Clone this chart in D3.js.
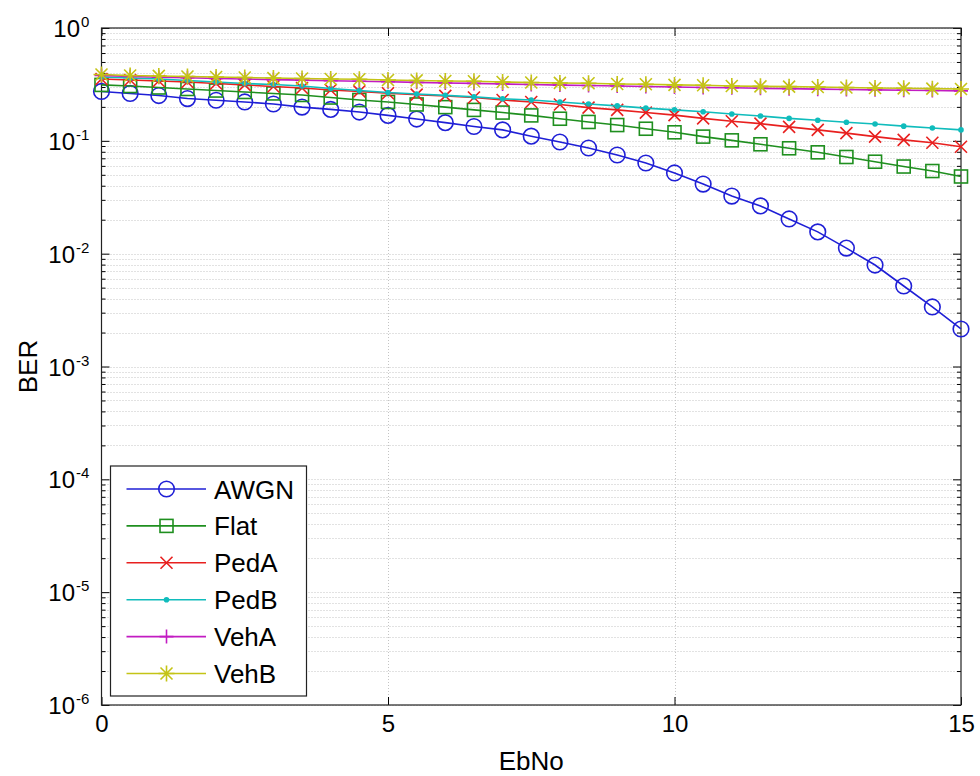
<!DOCTYPE html>
<html>
<head>
<meta charset="utf-8">
<script src="https://cdn.jsdelivr.net/npm/d3@7"></script>
<style>
  body { margin: 0; background: #fff; }
  svg { display: block; font-family: "Liberation Sans", Arial, sans-serif; }
</style>
</head>
<body>
<svg id="chart" width="980" height="776"></svg>
<script>
// ---------------------------------------------
// Data
// ---------------------------------------------

let ebno = [0, 0.5, 1, 1.5, 2, 2.5, 3, 3.5, 4, 4.5, 5, 5.5, 6, 6.5, 7, 7.5,
  8, 8.5, 9, 9.5, 10, 10.5, 11, 11.5, 12, 12.5, 13, 13.5, 14, 14.5, 15];

let awgn = [0.274, 0.263, 0.252, 0.237, 0.229, 0.221, 0.212, 0.199, 0.190, 0.180,
  0.168, 0.156, 0.145, 0.134, 0.125, 0.110, 0.0976, 0.0864, 0.0749, 0.0636,
  0.0519, 0.0414, 0.0324, 0.0265, 0.0203, 0.0156, 0.0112, 0.00793, 0.00517,
  0.00337, 0.00215];

let flat = [0.313, 0.306, 0.297, 0.288, 0.279, 0.271, 0.263, 0.255, 0.242, 0.230,
  0.221, 0.210, 0.199, 0.188, 0.178, 0.168, 0.157, 0.147, 0.138, 0.128,
  0.119, 0.109, 0.101, 0.0932, 0.0859, 0.0791, 0.0719, 0.0653, 0.0592,
  0.0540, 0.0483];

let pedA = [0.353, 0.346, 0.339, 0.332, 0.322, 0.313, 0.303, 0.294, 0.282, 0.274,
  0.264, 0.257, 0.250, 0.242, 0.230, 0.221, 0.210, 0.197, 0.188, 0.178,
  0.169, 0.158, 0.149, 0.142, 0.133, 0.125, 0.117, 0.109, 0.102, 0.0962,
  0.0887];

let pedB = [0.368, 0.360, 0.353, 0.343, 0.332, 0.322, 0.316, 0.306, 0.291, 0.279,
  0.268, 0.260, 0.253, 0.245, 0.236, 0.230, 0.221, 0.212, 0.204, 0.195,
  0.188, 0.181, 0.173, 0.166, 0.158, 0.152, 0.146, 0.141, 0.135, 0.130,
  0.125];

let vehA = [0.380, 0.372, 0.366, 0.362, 0.357, 0.353, 0.349, 0.345, 0.341, 0.337,
  0.334, 0.330, 0.326, 0.323, 0.319, 0.316, 0.312, 0.309, 0.306, 0.303,
  0.300, 0.297, 0.295, 0.292, 0.290, 0.287, 0.285, 0.283, 0.281, 0.279,
  0.277];

let vehB = [0.387, 0.379, 0.376, 0.372, 0.368, 0.364, 0.360, 0.357, 0.353, 0.351,
  0.346, 0.343, 0.339, 0.337, 0.332, 0.329, 0.326, 0.324, 0.319, 0.317,
  0.313, 0.311, 0.306, 0.304, 0.302, 0.300, 0.297, 0.294, 0.292, 0.290,
  0.288];

let seriesNames = ['AWGN', 'Flat', 'PedA', 'PedB', 'VehA', 'VehB'];
let seriesValues = [awgn, flat, pedA, pedB, vehA, vehB];

let xTicks = [0, 5, 10, 15];
let yExponents = [0, -1, -2, -3, -4, -5, -6];

// ---------------------------------------------
// Styles
// ---------------------------------------------

let colors = ['#1f1fd6', '#1f8f1f', '#e8201f', '#10bcbc', '#c21cc2', '#c4c416'];
let markers = ['circle', 'square', 'x', 'dot', 'plus', 'star'];

let svg = d3.select('#chart');
let margin = {left: 101.5, right: 961, top: 28, bottom: 705};

let x = d3.scaleLinear().domain([0, 15]).range([margin.left, margin.right]);
let y = d3.scaleLog().domain([1e-6, 1]).range([margin.bottom, margin.top]);

// major and minor log ticks
let majorVals = yExponents.map((e) => Math.pow(10, e));
let minorVals = [];
for (let e = -6; e < 0; e++) {
  for (let m = 2; m <= 9; m++) minorVals.push(m * Math.pow(10, e));
}

// ---------------------------------------------
// Grid
// ---------------------------------------------

let grid = svg.append('g')
    .attr('stroke', '#c4c4c4')
    .attr('stroke-width', 1)
    .attr('stroke-dasharray', '1,2');

grid.selectAll('.hgrid').data(majorVals.concat(minorVals))
    .join('line')
    .attr('x1', margin.left)
    .attr('x2', margin.right)
    .attr('y1', (d) => Math.round(y(d)) + 0.5)
    .attr('y2', (d) => Math.round(y(d)) + 0.5);

grid.selectAll('.vgrid').data([5, 10])
    .join('line')
    .attr('x1', (d) => Math.round(x(d)) + 0.5)
    .attr('x2', (d) => Math.round(x(d)) + 0.5)
    .attr('y1', margin.top)
    .attr('y2', margin.bottom);

// ---------------------------------------------
// Axes (ticks pointing inward, box on all sides)
// ---------------------------------------------

let tickFont = 24;

svg.append('g')
    .attr('transform', `translate(0,${margin.bottom})`)
    .call(d3.axisBottom(x).tickValues(xTicks).tickSize(-8).tickPadding(10)
        .tickFormat(d3.format('d')))
    .call((g) => g.select('.domain').remove())
    .call((g) => g.selectAll('text').attr('font-size', tickFont).attr('fill', '#000')
        .attr('font-family', '"Liberation Sans", Arial, sans-serif'));

svg.append('g')
    .attr('transform', `translate(0,${margin.top})`)
    .call(d3.axisTop(x).tickValues(xTicks).tickSize(-8).tickFormat(''))
    .call((g) => g.select('.domain').remove());

let sides = [
  {axis: d3.axisLeft, pos: margin.left},
  {axis: d3.axisRight, pos: margin.right}
];
sides.forEach((s) => {
  svg.append('g')
      .attr('transform', `translate(${s.pos},0)`)
      .call(s.axis(y).tickValues(majorVals).tickSize(-8).tickFormat(''))
      .call((g) => g.select('.domain').remove());
  svg.append('g')
      .attr('transform', `translate(${s.pos},0)`)
      .call(s.axis(y).tickValues(minorVals).tickSize(-4).tickFormat(''))
      .call((g) => g.select('.domain').remove());
});

// y labels as 10 with a superscript exponent
let yLabels = svg.append('g')
    .attr('font-size', tickFont)
    .attr('fill', '#000');

yLabels.selectAll('text').data(yExponents)
    .join('text')
    .attr('x', (e) => e === 0 ? 80 : 75)
    .attr('y', (e) => y(Math.pow(10, e)) + 9)
    .attr('text-anchor', 'end')
    .text('10');

yLabels.selectAll('.sup').data(yExponents)
    .join('text')
    .attr('class', 'sup')
    .attr('x', (e) => e === 0 ? 81 : 76)
    .attr('y', (e) => y(Math.pow(10, e)) - 1)
    .attr('font-size', 15)
    .text((e) => e === 0 ? '0' : '-' + Math.abs(e));

// frame
svg.append('rect')
    .attr('x', margin.left)
    .attr('y', margin.top)
    .attr('width', margin.right - margin.left)
    .attr('height', margin.bottom - margin.top)
    .attr('fill', 'none')
    .attr('stroke', '#222')
    .attr('stroke-width', 1.2);

// axis titles
svg.append('text')
    .attr('x', (margin.left + margin.right) / 2)
    .attr('y', 770)
    .attr('text-anchor', 'middle')
    .attr('font-size', 26)
    .text('EbNo');

svg.append('text')
    .attr('transform', `translate(37,${(margin.top + margin.bottom) / 2}) rotate(-90)`)
    .attr('text-anchor', 'middle')
    .attr('font-size', 26)
    .text('BER');

// ---------------------------------------------
// Markers
// ---------------------------------------------

/**
 * Draws one marker of the given kind at the origin of group g
 */
let drawMarker = function(g, kind, color) {
  if (kind === 'circle') {
    g.append('circle').attr('r', 7.8)
        .attr('fill', 'none').attr('stroke', color).attr('stroke-width', 1.6);
  } else if (kind === 'square') {
    g.append('rect').attr('x', -6.5).attr('y', -6.5).attr('width', 13).attr('height', 13)
        .attr('fill', 'none').attr('stroke', color).attr('stroke-width', 1.6);
  } else if (kind === 'x') {
    g.append('path').attr('d', 'M-6,-6L6,6M-6,6L6,-6')
        .attr('stroke', color).attr('stroke-width', 1.6);
  } else if (kind === 'dot') {
    g.append('circle').attr('r', 2.8).attr('fill', color);
  } else if (kind === 'plus') {
    g.append('path').attr('d', 'M-7,0L7,0M0,-7L0,7')
        .attr('stroke', color).attr('stroke-width', 1.6);
  } else if (kind === 'star') {
    g.append('path').attr('d', 'M-8,0L8,0M0,-8L0,8M-6,-6L6,6M-6,6L6,-6')
        .attr('stroke', color).attr('stroke-width', 1.6);
  }
};

// ---------------------------------------------
// Series
// ---------------------------------------------

let line = d3.line()
    .x((d) => x(d[0]))
    .y((d) => y(d[1]));

seriesValues.forEach((values, s) => {
  let pts = ebno.map((v, i) => [v, values[i]]);
  let g = svg.append('g');

  g.append('path')
      .datum(pts)
      .attr('d', line)
      .attr('fill', 'none')
      .attr('stroke', colors[s])
      .attr('stroke-width', 1.6);

  g.selectAll('g.mk').data(pts)
      .join('g')
      .attr('class', 'mk')
      .attr('transform', (d) => `translate(${x(d[0])},${y(d[1])})`)
      .each(function() { drawMarker(d3.select(this), markers[s], colors[s]); });
});

// ---------------------------------------------
// Legend
// ---------------------------------------------

let legend = svg.append('g');
legend.append('rect')
    .attr('x', 110.5)
    .attr('y', 466)
    .attr('width', 196)
    .attr('height', 230)
    .attr('fill', '#fff')
    .attr('stroke', '#222')
    .attr('stroke-width', 1.2);

seriesNames.forEach((name, s) => {
  let ly = 489 + s * 36.9;
  legend.append('line')
      .attr('x1', 126.5).attr('x2', 206)
      .attr('y1', ly).attr('y2', ly)
      .attr('stroke', colors[s]).attr('stroke-width', 1.6);
  let mg = legend.append('g').attr('transform', `translate(166.5,${ly})`);
  drawMarker(mg, markers[s], colors[s]);
  legend.append('text')
      .attr('x', 214)
      .attr('y', ly + 9.5)
      .attr('font-size', 26)
      .text(name);
});
</script>
</body>
</html>
